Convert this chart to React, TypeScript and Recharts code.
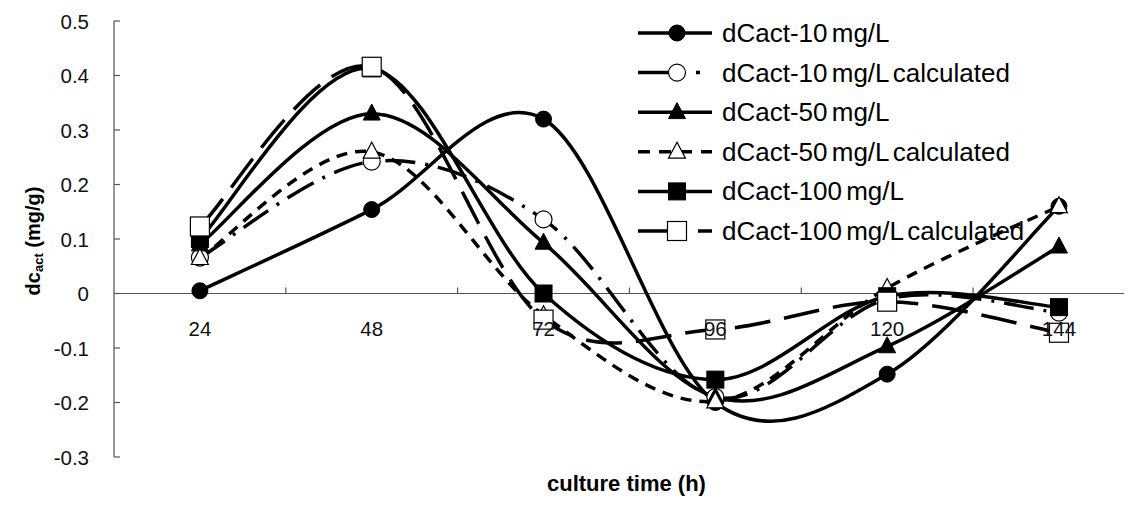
import React from 'react';
import { ComposedChart, Line, XAxis, YAxis, ReferenceLine, ReferenceDot } from 'recharts';

const hours = [24, 48, 72, 96, 120, 144];
const dCact10 = [0.005, 0.154, 0.32, -0.2, -0.148, 0.16];
const dCact10Calc = [0.066, 0.242, 0.136, -0.19, -0.01, -0.035];
const dCact50 = [0.09, 0.33, 0.093, -0.19, -0.097, 0.086];
const dCact50Calc = [0.065, 0.26, -0.04, -0.198, 0.01, 0.16];
const dCact100 = [0.1, 0.413, 0.0, -0.158, -0.005, -0.025];
const dCact100Calc = [0.123, 0.416, -0.048, -0.066, -0.015, -0.072];

const yTicks = [-0.3, -0.2, -0.1, 0, 0.1, 0.2, 0.3, 0.4, 0.5];
const xTickMarks = [36, 60, 84, 108, 132];

const seriesNames = [
  'dCact-10 mg/L',
  'dCact-10 mg/L calculated',
  'dCact-50 mg/L',
  'dCact-50 mg/L calculated',
  'dCact-100 mg/L',
  'dCact-100 mg/L calculated',
];
const seriesKeys = ['s10', 's10c', 's50', 's50c', 's100', 's100c'];
const seriesValues = [dCact10, dCact10Calc, dCact50, dCact50Calc, dCact100, dCact100Calc];

type Style = { dash?: string; legendDash?: string; shape: 'circle' | 'triangle' | 'square'; filled: boolean };
const styles: Style[] = [
  { shape: 'circle', filled: true },
  { shape: 'circle', filled: false, dash: '30 10 3 10', legendDash: '32 26 4 30' },
  { shape: 'triangle', filled: true },
  { shape: 'triangle', filled: false, dash: '11 8', legendDash: '12 9' },
  { shape: 'square', filled: true },
  { shape: 'square', filled: false, dash: '36 14', legendDash: '32 28 14 10' },
];

const data = hours.map((h, i) => {
  const row: Record<string, number> = { h };
  seriesKeys.forEach((k, j) => {
    row[k] = seriesValues[j][i];
  });
  return row;
});

const FONT = '"Liberation Sans", Arial, sans-serif';

// Excel-like smoothed curve (Catmull-Rom style Bezier)
function excelCurve(context: any) {
  let pts: number[][] = [];
  return {
    areaStart() {},
    areaEnd() {},
    lineStart() {
      pts = [];
    },
    point(x: number, y: number) {
      pts.push([+x, +y]);
    },
    lineEnd() {
      const n = pts.length;
      if (!n) return;
      context.moveTo(pts[0][0], pts[0][1]);
      if (n === 2) {
        context.lineTo(pts[1][0], pts[1][1]);
        return;
      }
      for (let i = 0; i < n - 1; i++) {
        const p0 = pts[Math.max(0, i - 1)];
        const p1 = pts[i];
        const p2 = pts[i + 1];
        const p3 = pts[Math.min(n - 1, i + 2)];
        const c1x = p1[0] + (p2[0] - p0[0]) / 6;
        const c1y = p1[1] + (p2[1] - p0[1]) / 6;
        const c2x = p2[0] - (p3[0] - p1[0]) / 6;
        const c2y = p2[1] - (p3[1] - p1[1]) / 6;
        context.bezierCurveTo(c1x, c1y, c2x, c2y, p2[0], p2[1]);
      }
    },
  };
}

function Marker({ cx, cy, style }: { cx: number; cy: number; style: Style }) {
  const fill = style.filled ? '#000' : '#fff';
  if (style.shape === 'circle') {
    return <circle cx={cx} cy={cy} r={style.filled ? 8 : 8.5} fill={fill} stroke="#000" strokeWidth={style.filled ? 1 : 1.2} />;
  }
  if (style.shape === 'square') {
    const s = style.filled ? 17 : 19;
    return <rect x={cx - s / 2} y={cy - s / 2} width={s} height={s} fill={fill} stroke="#000" strokeWidth={style.filled ? 1 : 1.2} />;
  }
  const w = 17;
  const hgt = 16;
  return (
    <polygon
      points={`${cx},${cy - hgt * 0.6} ${cx + w / 2},${cy + hgt * 0.4} ${cx - w / 2},${cy + hgt * 0.4}`}
      fill={fill}
      stroke="#000"
      strokeWidth={style.filled ? 1 : 1.2}
    />
  );
}

function makeDot(style: Style) {
  return (props: any) => {
    const { cx, cy, index } = props;
    if (cx == null || cy == null) return <g key={index} />;
    return <Marker key={index} cx={cx} cy={cy} style={style} />;
  };
}

function YTick(props: any) {
  const { x, y, payload } = props;
  const v = payload.value as number;
  const label = Math.abs(v) < 1e-9 ? '0' : String(Math.round(v * 10) / 10);
  return (
    <g>
      <line x1={x} y1={y} x2={x + 6} y2={y} stroke="#555" strokeWidth={1.2} />
      <text x={x - 25} y={y} textAnchor="end" dominantBaseline="central" fontFamily={FONT} fontSize={20.5} fill="#111">
        {label}
      </text>
    </g>
  );
}

function YTitle(props: any) {
  const { viewBox } = props;
  const cy = viewBox.y + viewBox.height / 2 + 2;
  const cx = 25;
  return (
    <text
      transform={`translate(${cx},${cy}) rotate(-90)`}
      textAnchor="middle"
      dominantBaseline="central"
      fontFamily={FONT}
      fontSize={20}
      fontWeight="bold"
      fill="#000"
    >
      <tspan>dc</tspan>
      <tspan fontSize={13} dy={5}>act</tspan>
      <tspan dy={-5}> (mg/g)</tspan>
    </text>
  );
}

function LegendBox() {
  const rowH = 39.6;
  return (
    <svg width={440} height={250} style={{ overflow: 'visible', display: 'block' }}>
      {seriesNames.map((name, i) => {
        const st = styles[i];
        const y = 25 + i * rowH;
        return (
          <g key={name}>
            <line x1={0} y1={y} x2={74} y2={y} stroke="#000" strokeWidth={3.5} strokeDasharray={st.legendDash} />
            <Marker cx={39} cy={y} style={st} />
            <text x={84} y={y} dominantBaseline="central" fontFamily={FONT} fontSize={26} fill="#000" wordSpacing={-3}>
              {name}
            </text>
          </g>
        );
      })}
    </svg>
  );
}

export default function App() {
  return (
    <div style={{ position: 'relative', width: 1124, height: 498 }}>
      <ComposedChart width={1124} height={498} data={data} margin={{ top: 13, right: 0, bottom: 49, left: 0 }}>
        <XAxis dataKey="h" type="number" domain={[12, 154.2]} hide />
        <YAxis
          type="number"
          domain={[-0.3, 0.5]}
          ticks={yTicks}
          interval={0}
          width={106}
          tickSize={0}
          tickMargin={0}
          tickLine={false}
          axisLine={{ stroke: '#555', strokeWidth: 1.2 }}
          tick={<YTick />}
          label={<YTitle />}
        />
        <ReferenceLine y={0} stroke="#555" strokeWidth={1.2} />
        {xTickMarks.map((t) => (
          <ReferenceLine
            key={t}
            segment={[
              { x: t, y: 0 },
              { x: t, y: 0.011 },
            ]}
            stroke="#555"
            strokeWidth={1.2}
          />
        ))}
        {hours.map((h) => (
          <ReferenceDot
            key={h}
            x={h}
            y={0}
            r={0}
            fill="none"
            stroke="none"
            label={{ value: String(h), position: 'bottom', offset: 28, fontFamily: FONT, fontSize: 20.5, fill: '#111' }}
          />
        ))}
        {seriesKeys.map((k, i) => (
          <Line
            key={k}
            dataKey={k}
            name={seriesNames[i]}
            type={excelCurve as any}
            stroke="#000"
            strokeWidth={3.5}
            strokeDasharray={styles[i].dash}
            dot={makeDot(styles[i])}
            activeDot={false}
            isAnimationActive={false}
          />
        ))}
      </ComposedChart>
      <div style={{ position: 'absolute', left: 630, top: 0 }}>
        <LegendBox />
      </div>
      <div
        style={{
          position: 'absolute',
          left: 539,
          top: 463,
          fontFamily: FONT,
          fontSize: 22,
          fontWeight: 'bold',
          color: '#000',
          whiteSpace: 'nowrap',
        }}
      >
        culture time (h)
      </div>
    </div>
  );
}
